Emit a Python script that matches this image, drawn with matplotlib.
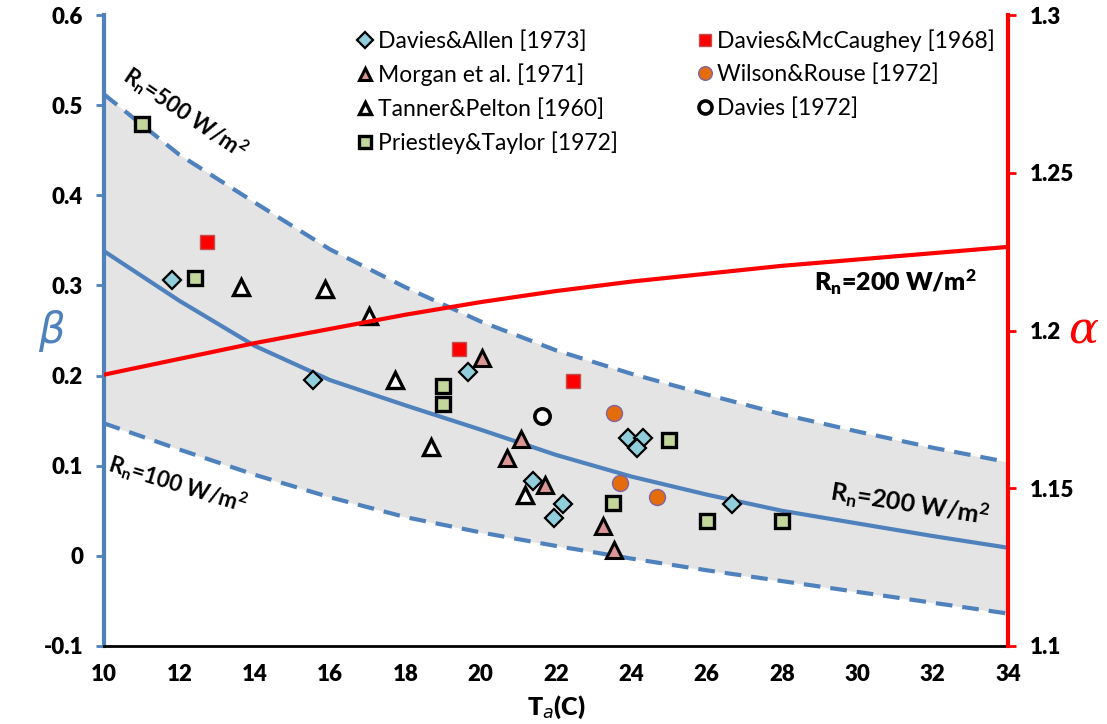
import matplotlib
matplotlib.use("Agg")
import matplotlib.pyplot as plt

# ---- curves (beta on left axis, alpha on right axis) ----
temps = [10, 12, 14, 16, 18, 20, 22, 24, 26, 28, 30, 32, 34]
beta_rn500 = [0.512, 0.445, 0.392, 0.340, 0.298, 0.260, 0.228, 0.202, 0.179, 0.157, 0.138, 0.120, 0.104]
beta_rn200 = [0.338, 0.283, 0.233, 0.195, 0.167, 0.140, 0.112, 0.088, 0.068, 0.050, 0.036, 0.022, 0.009]
beta_rn100 = [0.147, 0.118, 0.090, 0.065, 0.043, 0.026, 0.011, -0.003, -0.016, -0.028, -0.040, -0.052, -0.064]
alpha_rn200 = [1.186, 1.191, 1.196, 1.2005, 1.205, 1.209, 1.2125, 1.2155, 1.218, 1.2205, 1.2225, 1.2245, 1.2265]

# ---- observations ----
davies_allen_t = [11.8, 15.56, 19.67, 21.38, 22.19, 21.95, 23.92, 24.32, 24.14, 26.68]
davies_allen_b = [0.306, 0.195, 0.204, 0.083, 0.057, 0.042, 0.131, 0.131, 0.120, 0.057]

mccaughey_t = [12.74, 19.42, 22.46]
mccaughey_b = [0.348, 0.230, 0.194]

morgan_t = [20.03, 21.07, 20.71, 21.71, 23.25, 23.54]
morgan_b = [0.219, 0.130, 0.109, 0.079, 0.033, 0.006]

wilson_t = [23.54, 23.70, 24.67]
wilson_b = [0.159, 0.081, 0.065]

tanner_t = [13.64, 15.87, 17.04, 17.72, 18.68, 21.17]
tanner_b = [0.298, 0.296, 0.266, 0.195, 0.121, 0.068]

davies_t = [21.64]
davies_b = [0.155]

priestley_t = [11.02, 12.42, 19.01, 19.01, 25.0, 23.52, 26.0, 28.0]
priestley_b = [0.479, 0.308, 0.188, 0.168, 0.128, 0.059, 0.039, 0.039]

x_ticks = [10, 12, 14, 16, 18, 20, 22, 24, 26, 28, 30, 32, 34]
beta_ticks = [-0.1, 0, 0.1, 0.2, 0.3, 0.4, 0.5, 0.6]
beta_labels = ["-0.1", "0", "0.1", "0.2", "0.3", "0.4", "0.5", "0.6"]
alpha_ticks = [1.1, 1.15, 1.2, 1.25, 1.3]
alpha_labels = ["1.1", "1.15", "1.2", "1.25", "1.3"]

BLUE = "#4F81BD"
RED = "#FF0000"
FONT = ["Lato", "DejaVu Sans"]
plt.rcParams["font.family"] = FONT
plt.rcParams["mathtext.default"] = "regular"

W, H = 1107, 724
fig = plt.figure(figsize=(W / 100, H / 100), dpi=100)
ax = fig.add_axes([104 / W, 1 - 646 / H, 904 / W, 631 / H])

ax.fill_between(temps, beta_rn100, beta_rn500, color="#e4e4e4", lw=0, zorder=1)
ax.plot(temps, beta_rn500, color=BLUE, lw=3, dashes=(4, 2.4), zorder=2)
ax.plot(temps, beta_rn100, color=BLUE, lw=3, dashes=(4, 2.4), zorder=2)
ax.plot(temps, beta_rn200, color=BLUE, lw=3, zorder=2)

series = [
    (davies_allen_t, davies_allen_b, dict(marker="D", ms=9, mfc="#92CDDC", mec="black", mew=1.6), "Davies&Allen [1973]"),
    (morgan_t, morgan_b, dict(marker="^", ms=11, mfc="#D99694", mec="black", mew=2.2), "Morgan et al. [1971]"),
    (tanner_t, tanner_b, dict(marker="^", ms=11, mfc="white", mec="black", mew=2.4), "Tanner&Pelton [1960]"),
    (priestley_t, priestley_b, dict(marker="s", ms=9.5, mfc="#C3D69B", mec="black", mew=2.4), "Priestley&Taylor [1972]"),
    (mccaughey_t, mccaughey_b, dict(marker="s", ms=10, mfc="#FF0000", mec="#C0504D", mew=1.0), "Davies&McCaughey [1968]"),
    (wilson_t, wilson_b, dict(marker="o", ms=11.5, mfc="#E46C0A", mec="#8064A2", mew=1.0), "Wilson&Rouse [1972]"),
    (davies_t, davies_b, dict(marker="o", ms=11, mfc="white", mec="black", mew=2.6), "Davies [1972]"),
]
handles = []
for t, b, style, name in series:
    h, = ax.plot(t, b, ls="none", zorder=3, label=name, **style)
    handles.append(h)

TICK_FONT = dict(fontsize=16, fontweight="heavy")

ax.set_xlim(10, 34)
ax.set_ylim(-0.1, 0.6)
ax.set_xticks(x_ticks)
ax.set_xticklabels([str(v) for v in x_ticks], **TICK_FONT)
ax.set_yticks(beta_ticks)
ax.set_yticklabels(beta_labels, **TICK_FONT)
ax.tick_params(axis="x", length=0, pad=13)
ax.tick_params(axis="y", direction="out", length=6, width=2, color=BLUE, pad=9)

for side in ["top", "right"]:
    ax.spines[side].set_visible(False)
ax.spines["left"].set_color(BLUE)
ax.spines["left"].set_linewidth(3)
ax.spines["bottom"].set_color("black")
ax.spines["bottom"].set_linewidth(2)

ax.set_xlabel("T$_{\\mathit{a}}$(C)", fontsize=18, fontweight="heavy", labelpad=6)
ax.text(-0.058, 0.5, "β", transform=ax.transAxes, color=BLUE, fontsize=30,
        style="italic", family=["DejaVu Sans"], ha="center", va="center")

ax.text(12.15, 0.492, "R$_n$=500 W/m$^2$", rotation=-34, fontsize=16,
        fontweight="bold", ha="center", va="center", rotation_mode="anchor", zorder=4)
ax.text(11.96, 0.080, "R$_n$=100 W/m$^2$", rotation=-17, fontsize=16,
        fontweight="bold", ha="center", va="center", rotation_mode="anchor", zorder=4)
ax.text(31.4, 0.057, "R$_n$=200 W/m$^2$", rotation=-9, fontsize=18,
        fontweight="bold", ha="center", va="center", rotation_mode="anchor", zorder=4)
ax.text(31.0, 0.304, "R$_n$=200 W/m$^2$", fontsize=18,
        fontweight="heavy", ha="center", va="center", zorder=4)

leg = ax.legend(handles=handles, ncol=2, frameon=False, fontsize=16.5,
                loc="upper left", bbox_to_anchor=(349 / W, 1 - 20 / H),
                bbox_transform=fig.transFigure, markerscale=0.85,
                handlelength=0.6, handletextpad=0.25, columnspacing=3.5,
                labelspacing=0.52, borderaxespad=0)

# right axis: alpha
ax2 = ax.twinx()
ax2.plot(temps, alpha_rn200, color=RED, lw=3, zorder=5)
ax2.set_ylim(1.1, 1.3)
ax2.set_yticks(alpha_ticks)
ax2.set_yticklabels(alpha_labels, **TICK_FONT)
ax2.tick_params(axis="y", direction="out", length=6, width=2, color=RED, pad=10)
for side in ["top", "left", "bottom"]:
    ax2.spines[side].set_visible(False)
ax2.spines["right"].set_color(RED)
ax2.spines["right"].set_linewidth(3)
ax2.text(1.083, 0.5, "α", transform=ax2.transAxes, color=RED, fontsize=32,
         style="italic", family=["DejaVu Serif"], ha="center", va="center")

fig.savefig("out.png", dpi=100)
